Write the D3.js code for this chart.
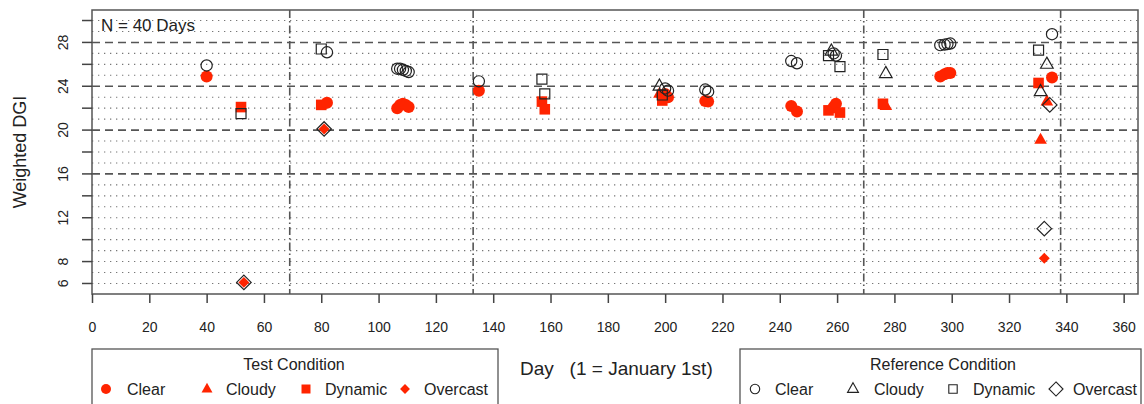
<!DOCTYPE html>
<html><head><meta charset="utf-8">
<script src="https://cdn.jsdelivr.net/npm/d3@7"></script>
<style>body{margin:0;background:#fff;} text{font-family:"Liberation Sans",Arial,sans-serif;}</style>
</head><body>
<svg id="c" width="1144" height="404"></svg>
<script>
// ---- data ----
const days      = [40,52,53,80,81,82,106.5,107.5,108.5,109.5,110.5,135,157,158,198,199,200,201,214,215,244,246,257,258,258.8,259.6,261,276,277,296,297.5,298.5,299.5,330.3,331,332.3,333.2,334.2,335];
const conditions= ["Clear","Dynamic","Overcast","Dynamic","Overcast","Clear","Clear","Clear","Clear","Clear","Clear","Clear","Dynamic","Dynamic","Cloudy","Dynamic","Clear","Clear","Clear","Clear","Clear","Clear","Dynamic","Cloudy","Clear","Clear","Dynamic","Dynamic","Cloudy","Clear","Clear","Clear","Clear","Dynamic","Cloudy","Overcast","Cloudy","Overcast","Clear"];
const refValues = [25.9,21.5,6.1,27.4,20.1,27.1,25.6,25.6,25.5,25.4,25.3,24.45,24.65,23.3,24.0,23.2,23.8,23.6,23.7,23.5,26.3,26.1,26.8,27.2,27.0,26.8,25.8,26.9,25.15,27.75,27.8,27.85,27.9,27.3,23.5,11.0,26.0,22.3,28.75];
const testValues= [24.9,22.1,6.1,22.3,20.1,22.5,22.0,22.3,22.4,22.3,22.1,23.6,22.6,21.9,23.3,22.7,23.3,23.0,22.65,22.6,22.2,21.7,21.8,21.9,22.1,22.4,21.6,22.4,22.2,24.9,25.1,25.2,25.2,24.3,19.1,8.3,22.6,null,24.8];
const legendConditions = ["Clear","Cloudy","Dynamic","Overcast"];
const xTicks = d3.range(0,361,20);
const yTicks = d3.range(6,31,2);
const yTickLabels = [6,8,12,16,20,24,28];
const gridMinor = d3.range(6,31,1);
const gridMajor = [16,20,24,28];
const vLines = [69,133,269.3,338];

// ---- layout ----
const svg = d3.select("#c");
const L=92,R=1138,T=10,B=294;
const x = d3.scaleLinear().domain([0,365]).range([L,R]);
const y = d3.scaleLinear().domain([5.04,30.96]).range([B,T]);
const RED = "#ff2400", INK="#222";

function shape(cond, s){
  switch(cond){
    case "Clear": return d3.symbol(d3.symbolCircle, Math.PI*s*s)();
    case "Cloudy": { const h=s*1.05; return `M0,${-h*1.15}L${s*1.05},${h*0.62}L${-s*1.05},${h*0.62}Z`; }
    case "Dynamic": return `M${-s},${-s}H${s}V${s}H${-s}Z`;
    case "Overcast": return `M0,${-s*1.3}L${s*1.3},0L0,${s*1.3}L${-s*1.3},0Z`;
  }
}
const testSize = {Clear:6, Cloudy:6, Dynamic:5.3, Overcast:4.2};
const refSize  = {Clear:5.6, Cloudy:6, Dynamic:5, Overcast:5.6};

// grid
const g = svg.append("g");
g.selectAll("line.minor").data(gridMinor.filter(v=>!gridMajor.includes(v))).join("line")
  .attr("x1",L).attr("x2",R).attr("y1",d=>y(d)).attr("y2",d=>y(d))
  .attr("stroke","#777").attr("stroke-width",1.1).attr("stroke-dasharray","1.3,4.7");
g.selectAll("line.major").data(gridMajor).join("line")
  .attr("x1",L).attr("x2",R).attr("y1",d=>y(d)).attr("y2",d=>y(d))
  .attr("stroke","#555").attr("stroke-width",1.6).attr("stroke-dasharray","8,5");
g.selectAll("line.v").data(vLines).join("line")
  .attr("x1",d=>x(d)).attr("x2",d=>x(d)).attr("y1",T).attr("y2",B)
  .attr("stroke","#555").attr("stroke-width",1.6).attr("stroke-dasharray","8,3,1.5,3");

// box
svg.append("rect").attr("x",L).attr("y",T).attr("width",R-L).attr("height",B-T)
  .attr("fill","none").attr("stroke","#555").attr("stroke-width",1.5);

// axes
const xAxis = d3.axisBottom(x).tickValues(xTicks).tickSize(9).tickPadding(19).tickSizeOuter(0);
const xa = svg.append("g").attr("transform",`translate(0,${B})`).call(xAxis);
xa.select(".domain").remove();
xa.selectAll("line").attr("stroke","#444").attr("stroke-width",1.5);
xa.selectAll("text").attr("font-size",14).attr("fill","#222").attr("font-family","Liberation Sans, Arial, sans-serif");

const yAxis = d3.axisLeft(y).tickValues(yTicks).tickSize(10).tickFormat(d=>yTickLabels.includes(d)?d:"").tickSizeOuter(0);
const ya = svg.append("g").attr("transform",`translate(${L},0)`).call(yAxis);
ya.select(".domain").remove();
ya.selectAll("line").attr("stroke","#444").attr("stroke-width",1.5);
ya.selectAll("text").attr("font-size",14).attr("fill","#222").attr("font-family","Liberation Sans, Arial, sans-serif")
  .attr("text-anchor","middle").attr("dy",null).attr("dominant-baseline","central")
  .attr("x",0).attr("transform",function(d){return `translate(-29,${y(d)}) rotate(-90)`;}).attr("y",0);
ya.selectAll(".tick").attr("transform",null);
ya.selectAll(".tick line").attr("y1",d=>y(d)).attr("y2",d=>y(d));

// titles
svg.append("text").attr("transform",`translate(26,${(T+B)/2}) rotate(-90)`).attr("text-anchor","middle")
  .attr("font-size",18).attr("fill","#222").text("Weighted DGI");
svg.append("text").attr("x",101).attr("y",31).attr("font-size",17).attr("fill","#222").text("N = 40 Days");
svg.append("text").attr("x",520).attr("y",375).attr("font-size",19).attr("fill","#222")
  .attr("xml:space","preserve").text("Day   (1 = January 1st)");

// points: test first, then reference
const idx = d3.range(days.length);
svg.append("g").selectAll("path").data(idx.filter(i=>testValues[i]!=null)).join("path")
  .attr("transform",i=>`translate(${x(days[i])},${y(testValues[i])})`)
  .attr("d",i=>shape(conditions[i],testSize[conditions[i]]))
  .attr("fill",RED);
svg.append("g").selectAll("path").data(idx).join("path")
  .attr("transform",i=>`translate(${x(days[i])},${y(refValues[i])})`)
  .attr("d",i=>shape(conditions[i],refSize[conditions[i]]))
  .attr("fill","none").attr("stroke",INK).attr("stroke-width",1.2);

// legends
function legend(x0,x1,title,titleX,symX,txtX,filled){
  const lg = svg.append("g");
  lg.append("rect").attr("x",x0).attr("y",349).attr("width",x1-x0).attr("height",80)
    .attr("fill","#fff").attr("stroke","#555").attr("stroke-width",1.3);
  lg.append("text").attr("x",titleX).attr("y",370).attr("text-anchor","middle").attr("font-size",16).attr("fill","#222").text(title);
  legendConditions.forEach((c,i)=>{
    const s = filled ? {Clear:5,Cloudy:5.2,Dynamic:4.5,Overcast:3.8}[c] : {Clear:4.7,Cloudy:5.2,Dynamic:4.2,Overcast:5.4}[c];
    lg.append("path").attr("transform",`translate(${symX[i]},389)`).attr("d",shape(c,s))
      .attr("fill",filled?RED:"none").attr("stroke",filled?"none":INK).attr("stroke-width",1.1);
    lg.append("text").attr("x",txtX[i]).attr("y",394.5).attr("font-size",16).attr("fill","#222").text(c);
  });
}
legend(92,498,"Test Condition",294,[106,207,306,405],[127,226,325,424],true);
legend(740,1141,"Reference Condition",943,[755,853,953,1056],[775,874,973,1073],false);
</script>
</body></html>
